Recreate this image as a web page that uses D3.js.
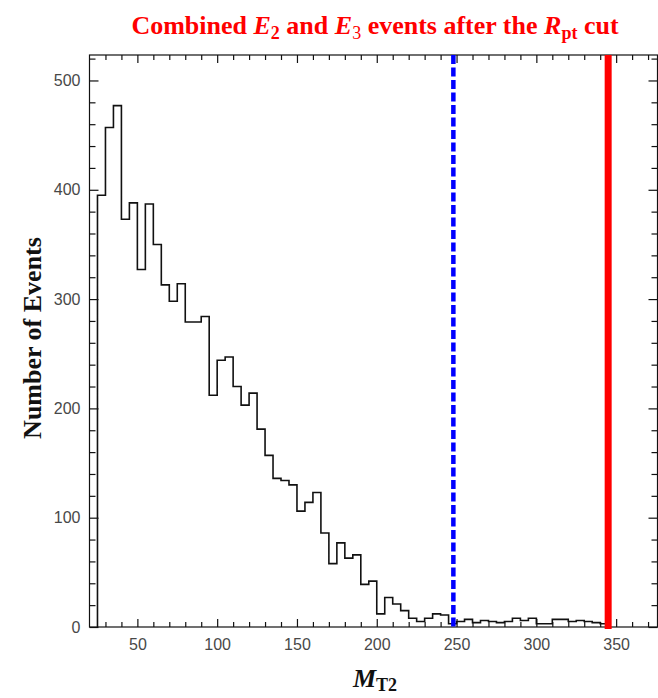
<!DOCTYPE html>
<html>
<head>
<meta charset="utf-8">
<script src="https://cdn.jsdelivr.net/npm/d3@7"></script>
<style>
  html, body { margin: 0; padding: 0; background: #fff; }
  svg { display: block; }
</style>
</head>
<body>
<svg id="chart" width="658" height="698"></svg>
<script>
// M_T2 histogram: lower bin edges (GeV) and event counts per 5 GeV bin
const binLower = [25, 30, 35, 40, 45, 50, 55, 60, 65, 70, 75, 80, 85, 90, 95,
  100, 105, 110, 115, 120, 125, 130, 135, 140, 145, 150, 155, 160, 165, 170,
  175, 180, 185, 190, 195, 200, 205, 210, 215, 220, 225, 230, 235, 240, 245,
  250, 255, 260, 265, 270, 275, 280, 285, 290, 295, 300, 305, 310, 315, 320,
  325, 330, 335, 340];
const binCounts = [395, 457, 477, 373, 388, 327, 387, 350, 313, 298, 314, 279, 279, 284, 212,
  244, 247, 220, 203, 214, 181, 157, 136, 134, 130, 106, 114, 123, 86, 58,
  77, 63, 66, 39, 42, 12, 27, 21, 15, 8, 5, 8, 12, 11, 3,
  5, 7, 4, 6, 5, 4, 5, 8, 6, 8, 3, 3, 7, 7, 5,
  6, 5, 4, 3];
const binWidth = 5;

// cut positions
const blueCut = 248;
const redCut = 345;

// axis ticks
const xMajorTicks = [50, 100, 150, 200, 250, 300, 350];
const xMinorTicks = [30, 40, 60, 70, 80, 90, 110, 120, 130, 140, 160, 170, 180, 190,
  210, 220, 230, 240, 260, 270, 280, 290, 310, 320, 330, 340, 360, 370];
const yMajorTicks = [0, 100, 200, 300, 400, 500];
const yMinorTicks = [20, 40, 60, 80, 120, 140, 160, 180, 220, 240, 260, 280,
  320, 340, 360, 380, 420, 440, 460, 480, 520];

const svg = d3.select("#chart");

const plotLeft = 89.5, plotRight = 657.5, plotTop = 55, plotBottom = 627;
const x = d3.scaleLinear().domain([20, 375.6]).range([plotLeft, plotRight - 0.5]);
const y = d3.scaleLinear().domain([0, 523.3]).range([plotBottom, plotTop]);

const tickFont = "'Liberation Sans', Arial, sans-serif";
const serif = "'Liberation Serif', 'Times New Roman', Times, serif";

// histogram outline
const pts = [[binLower[0], 0]];
binLower.forEach((lo, i) => {
  pts.push([lo, binCounts[i]]);
  pts.push([lo + binWidth, binCounts[i]]);
});
pts.push([binLower[binLower.length - 1] + binWidth, 0]);

svg.append("path")
  .attr("d", d3.line().x(d => x(d[0])).y(d => y(d[1]))(pts))
  .attr("fill", "none")
  .attr("stroke", "#111")
  .attr("stroke-width", 1.6)
  .attr("stroke-linejoin", "miter");

// axes with inward ticks
function styleAxis(g) {
  g.select(".domain").remove();
  g.selectAll(".tick line").attr("stroke", "#111").attr("stroke-width", 1.2);
  g.selectAll("text").attr("fill", "#484848").style("font-family", tickFont).style("font-size", "16px");
}

svg.append("g").attr("transform", `translate(0,${plotBottom})`)
  .call(d3.axisBottom(x).tickValues(xMajorTicks).tickSize(-8).tickPadding(12).tickFormat(d3.format("d")))
  .call(styleAxis);
svg.append("g").attr("transform", `translate(0,${plotBottom})`)
  .call(d3.axisBottom(x).tickValues(xMinorTicks).tickSize(-5).tickFormat(""))
  .call(styleAxis);
svg.append("g").attr("transform", `translate(0,${plotTop})`)
  .call(d3.axisTop(x).tickValues(xMajorTicks).tickSize(-8).tickFormat(""))
  .call(styleAxis);
svg.append("g").attr("transform", `translate(0,${plotTop})`)
  .call(d3.axisTop(x).tickValues(xMinorTicks).tickSize(-5).tickFormat(""))
  .call(styleAxis);

svg.append("g").attr("transform", `translate(${plotLeft},0)`)
  .call(d3.axisLeft(y).tickValues(yMajorTicks).tickSize(-9).tickPadding(9).tickFormat(d3.format("d")))
  .call(styleAxis);
svg.append("g").attr("transform", `translate(${plotLeft},0)`)
  .call(d3.axisLeft(y).tickValues(yMinorTicks).tickSize(-6).tickFormat(""))
  .call(styleAxis);
svg.append("g").attr("transform", `translate(${plotRight},0)`)
  .call(d3.axisRight(y).tickValues(yMajorTicks).tickSize(-9).tickFormat(""))
  .call(styleAxis);
svg.append("g").attr("transform", `translate(${plotRight},0)`)
  .call(d3.axisRight(y).tickValues(yMinorTicks).tickSize(-6).tickFormat(""))
  .call(styleAxis);

// frame
svg.append("rect")
  .attr("x", plotLeft).attr("y", plotTop)
  .attr("width", plotRight - plotLeft).attr("height", plotBottom - plotTop)
  .attr("fill", "none").attr("stroke", "#111").attr("stroke-width", 1.2);

// cut lines
svg.append("line")
  .attr("x1", x(blueCut)).attr("x2", x(blueCut))
  .attr("y1", plotTop).attr("y2", plotBottom + 1)
  .attr("stroke", "#0000ff").attr("stroke-width", 4.5)
  .attr("stroke-dasharray", "9,3.5");
svg.append("line")
  .attr("x1", x(redCut)).attr("x2", x(redCut))
  .attr("y1", plotTop).attr("y2", plotBottom + 2)
  .attr("stroke", "#ff0000").attr("stroke-width", 7);

// title
const title = svg.append("text")
  .attr("x", 375).attr("y", 34)
  .attr("text-anchor", "middle")
  .attr("fill", "#ff0000")
  .style("font-family", serif).style("font-weight", "bold").style("font-size", "26px");
title.append("tspan").text("Combined ");
title.append("tspan").style("font-style", "italic").text("E");
title.append("tspan").attr("dy", 5).style("font-size", "18px").text("2");
title.append("tspan").attr("dy", -5).text(" and ");
title.append("tspan").style("font-style", "italic").text("E");
title.append("tspan").attr("dy", 5).style("font-size", "18px").style("font-weight", "normal").text("3");
title.append("tspan").attr("dy", -5).text(" events after the ");
title.append("tspan").style("font-style", "italic").text("R");
title.append("tspan").attr("dy", 5).style("font-size", "18px").text("pt");
title.append("tspan").attr("dy", -5).text(" cut");

// y-axis label
svg.append("text")
  .attr("transform", "translate(41,338) rotate(-90)")
  .attr("text-anchor", "middle")
  .attr("fill", "#111")
  .style("font-family", serif).style("font-weight", "bold").style("font-size", "26px")
  .text("Number of Events");

// x-axis label
const xl = svg.append("text")
  .attr("x", 375).attr("y", 687)
  .attr("text-anchor", "middle")
  .attr("fill", "#111")
  .style("font-family", serif).style("font-weight", "bold").style("font-size", "26px");
xl.append("tspan").style("font-style", "italic").text("M");
xl.append("tspan").attr("dy", 4).style("font-size", "18px").text("T2");
</script>
</body>
</html>
